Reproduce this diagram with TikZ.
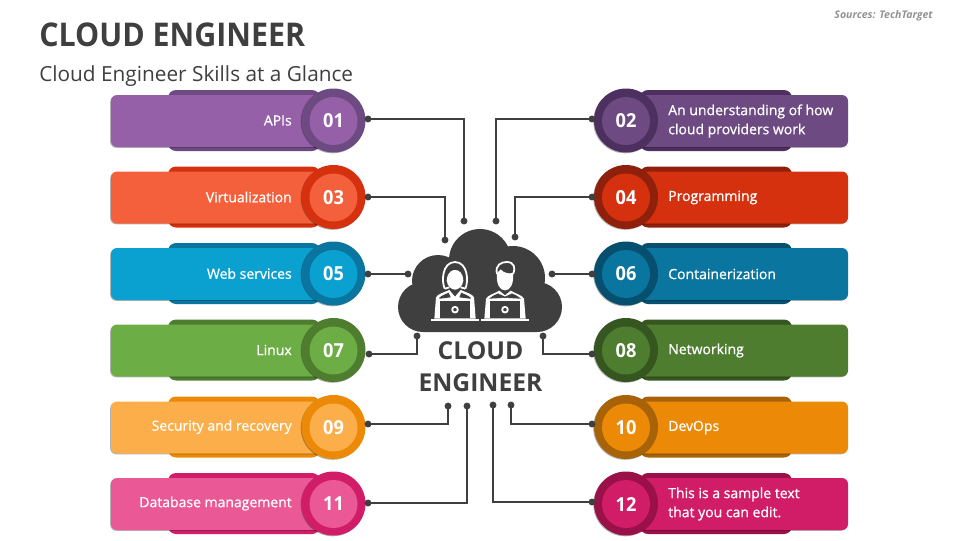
\documentclass[tikz,border=0pt]{standalone}
\usepackage{fontspec}
\setmainfont{Open Sans}
\usetikzlibrary{shadows}
\definecolor{ink}{HTML}{3F3F3F}
\definecolor{ca}{HTML}{9560A8}\definecolor{cb}{HTML}{6D4A82}\definecolor{cc}{HTML}{4D2F60}
\definecolor{da}{HTML}{F45F3C}\definecolor{db}{HTML}{D5310E}\definecolor{dc}{HTML}{8F210C}
\definecolor{ea}{HTML}{0AA0D0}\definecolor{eb}{HTML}{0A759F}\definecolor{ec}{HTML}{064F6E}
\definecolor{fa}{HTML}{6CAE45}\definecolor{fb}{HTML}{4E7D30}\definecolor{fc}{HTML}{35561F}
\definecolor{ga}{HTML}{FBAE4A}\definecolor{gb}{HTML}{EC8A08}\definecolor{gc}{HTML}{A86208}
\definecolor{ha}{HTML}{EA5895}\definecolor{hb}{HTML}{D11D68}\definecolor{hc}{HTML}{9A1049}
\tikzset{
  x=0.75pt,y=-0.75pt,
  band/.style={rounded corners=4.5pt,inner sep=0,outer sep=0,line width=0pt},
  soft/.style={drop shadow={shadow xshift=-0.6pt,shadow yshift=-0.6pt,opacity=.3,fill=black}},
  lab/.style={text=white,font=\fontsize{10.5pt}{14.3pt}\selectfont\addfontfeature{FakeBold=0.8},inner sep=0,align=left},
  num/.style={text=white,font=\fontsize{14.5pt}{16pt}\selectfont\bfseries\addfontfeature{FakeStretch=0.94},inner sep=0},
  wire/.style={draw=ink,line width=1.35pt,rounded corners=0pt},
  dotend/.style={circle,fill=ink,minimum size=5.2pt,inner sep=0,outer sep=0},
  bigt/.style={text=ink,font=\fontsize{18.5pt}{24pt}\selectfont\bfseries,align=center,inner sep=0},
  figw/.style={draw=white,line width=1.35pt,line join=round}
}
\newcommand{\leftrow}[6]{% y, light, dark, num, label, id
  \fill[#3,rounded corners=6pt] (168,#1-30.5) rectangle (320,#1+30.5);
  \fill[#2,band,soft] (111,#1-25.5) rectangle (322,#1+26.5);
  \node[circle,fill=#3,minimum size=48pt,inner sep=0,soft] (c#6) at (333.5,#1) {};
  \node[circle,fill=#2,minimum size=36pt,inner sep=0,num] at (333.5,#1+0.5) {#4};
  \node[lab,anchor=east] (t#6) at (292,#1) {#5};
}
\newcommand{\rightrow}[7]{% y, rect, back, ring, num, label, id
  \fill[#3,rounded corners=6pt] (640,#1-30.5) rectangle (792,#1+30.5);
  \fill[#2,band,soft] (626,#1-25.5) rectangle (848,#1+26.5);
  \node[circle,fill=#4,minimum size=48pt,inner sep=0,soft] (c#7) at (626,#1) {};
  \node[circle,fill=#2,minimum size=36pt,inner sep=0,num] at (626,#1+0.5) {#5};
  \node[lab,anchor=west] (t#7) at (668,#1+0.5) {#6};
}
\begin{document}
\begin{tikzpicture}
\useasboundingbox (0,0) rectangle (960,540);
% titles
\node[anchor=west,text=ink,inner sep=0,font=\fontsize{24.5pt}{28pt}\selectfont\bfseries\addfontfeature{FakeStretch=0.93}] (title) at (39,34.5) {CLOUD ENGINEER};
\node[anchor=west,text=ink,inner sep=0,font=\fontsize{15.6pt}{18pt}\selectfont] (sub) at (39,76) {Cloud Engineer Skills at a Glance};
\node[anchor=east,text=gray!85,inner sep=0,font=\fontsize{7.9pt}{9pt}\selectfont\bfseries\itshape] (src) at (933,15.5) {Sources: TechTarget};
% rows
\leftrow{120.5}{ca}{cb}{01}{APIs}{a}
\leftrow{197}{da}{db}{03}{Virtualization}{c}
\leftrow{273.5}{ea}{eb}{05}{Web services}{e}
\leftrow{350}{fa}{fb}{07}{Linux}{g}
\leftrow{427}{ga}{gb}{09}{Security and recovery}{i}
\leftrow{503.5}{ha}{hb}{11}{Database management}{k}
\rightrow{120.5}{cb}{cc}{cc}{02}{An understanding of how\\cloud providers work}{b}
\rightrow{197}{db}{dc}{dc}{04}{Programming}{d}
\rightrow{273.5}{eb}{ec}{ec}{06}{Containerization}{f}
\rightrow{350}{fb}{fc}{fc}{08}{Networking}{h}
\rightrow{427}{gb}{gc}{gc}{10}{DevOps}{j}
\rightrow{503.5}{hb}{hc}{hc}{12}{This is a sample text\\that you can edit.}{l}
% cloud
\fill[ink] (423,307) circle[radius=25*0.75pt] (537,307) circle[radius=25*0.75pt]
  (480,260) circle[radius=31*0.75pt] (438,281) circle[radius=26*0.75pt]
  (513,278) circle[radius=32*0.75pt]
  (423,285) rectangle (537,332);
% persons
\begin{scope}[shift={(430,258)},x=0.25pt,y=-0.25pt]
  \fill[white] (50,68) .. controls (52,38) and (70,36) .. (75,36) .. controls (88,36) and (99,45) .. (100,68) .. controls (98,85) and (85,95) .. (75,95) .. controls (65,95) and (52,85) .. (50,68) -- cycle;
  \draw[figw] (44,92) .. controls (34,70) and (36,13) .. (75,12) .. controls (114,13) and (116,70) .. (106,92);
  \draw[figw] (44,92) -- (58,88) (106,92) -- (92,88);
  \path[fill=white] (13,182) -- (18,118) .. controls (22,108) and (45,102) .. (58,96) -- (75,116) -- (92,96) .. controls (105,102) and (128,108) .. (132,118) -- (137,182) -- cycle;
  \fill[ink] (29,127) rectangle (121,180);
  \fill[ink] (27,120) .. controls (35,112) and (48,108) .. (56,104) -- (62,118) -- (30,122) -- cycle;
  \fill[ink] (123,120) .. controls (115,112) and (102,108) .. (94,104) -- (88,118) -- (120,122) -- cycle;
  \draw[figw] (27,125) -- (123,125) -- (123,180) (27,180) -- (27,125);
  \draw[figw] (75,155) circle[radius=8.5];
  \draw[white,line width=1.6pt] (3,187) -- (147,187);
\end{scope}
\begin{scope}[shift={(480,258)},x=0.25pt,y=-0.25pt]
  \fill[white] (51,45) .. controls (48,80) and (60,97) .. (75,97) .. controls (90,97) and (102,80) .. (99,45) .. controls (85,48) and (72,45) .. (62,34) -- cycle;
  \draw[figw] (51,48) .. controls (44,20) and (65,12) .. (80,12) .. controls (102,12) and (108,28) .. (99,48);
  \path[fill=white] (13,182) -- (18,122) .. controls (22,112) and (45,106) .. (58,98) -- (75,112) -- (92,98) .. controls (105,106) and (128,112) .. (132,122) -- (137,182) -- cycle;
  \fill[ink] (29,127) rectangle (121,180);
  \fill[ink] (27,122) .. controls (35,114) and (46,110) .. (55,106) -- (66,120) -- cycle;
  \fill[ink] (123,122) .. controls (115,114) and (104,110) .. (95,106) -- (84,120) -- cycle;
  \fill[ink] (58,108) -- (75,116) -- (92,108) -- (92,118) -- (75,120) -- (58,118) -- cycle;
  \draw[figw] (27,125) -- (123,125) -- (123,180) (27,180) -- (27,125);
  \draw[figw] (75,155) circle[radius=8.5];
  \draw[white,line width=1.6pt] (3,187) -- (147,187);
\end{scope}
% centre label
\node[bigt] (lbl) at (480.5,367) {CLOUD\\ENGINEER};
% connector end points
\foreach \n/\x/\y in {a/464/221,c/445/240,e/408/274,g/417/336,i/448/406,k/467/406,
  b/496/221,d/515/237,f/552/274,h/543/336,j/511/405,l/493/405,
  sa/368/119,sc/368/197,se/368/274,sg/369/354,si/368/424,sk/368/503,
  sb/592/119,sd/592/197,sf/592/274,sh/592/354,sj/592/424,sl/592/502}
  \node[dotend] (\n) at (\x,\y) {};
\draw[wire] (sa) -| (a);
\draw[wire] (sc) -| (c);
\draw[wire] (se) -- (e);
\draw[wire] (sg) -| (g);
\draw[wire] (si) -| (i);
\draw[wire] (sk) -| (k);
\draw[wire] (sb) -| (b);
\draw[wire] (sd) -| (d);
\draw[wire] (sf) -- (f);
\draw[wire] (sh) -| (h);
\draw[wire] (sj) -| (j);
\draw[wire] (sl) -| (l);
\end{tikzpicture}
\end{document}
